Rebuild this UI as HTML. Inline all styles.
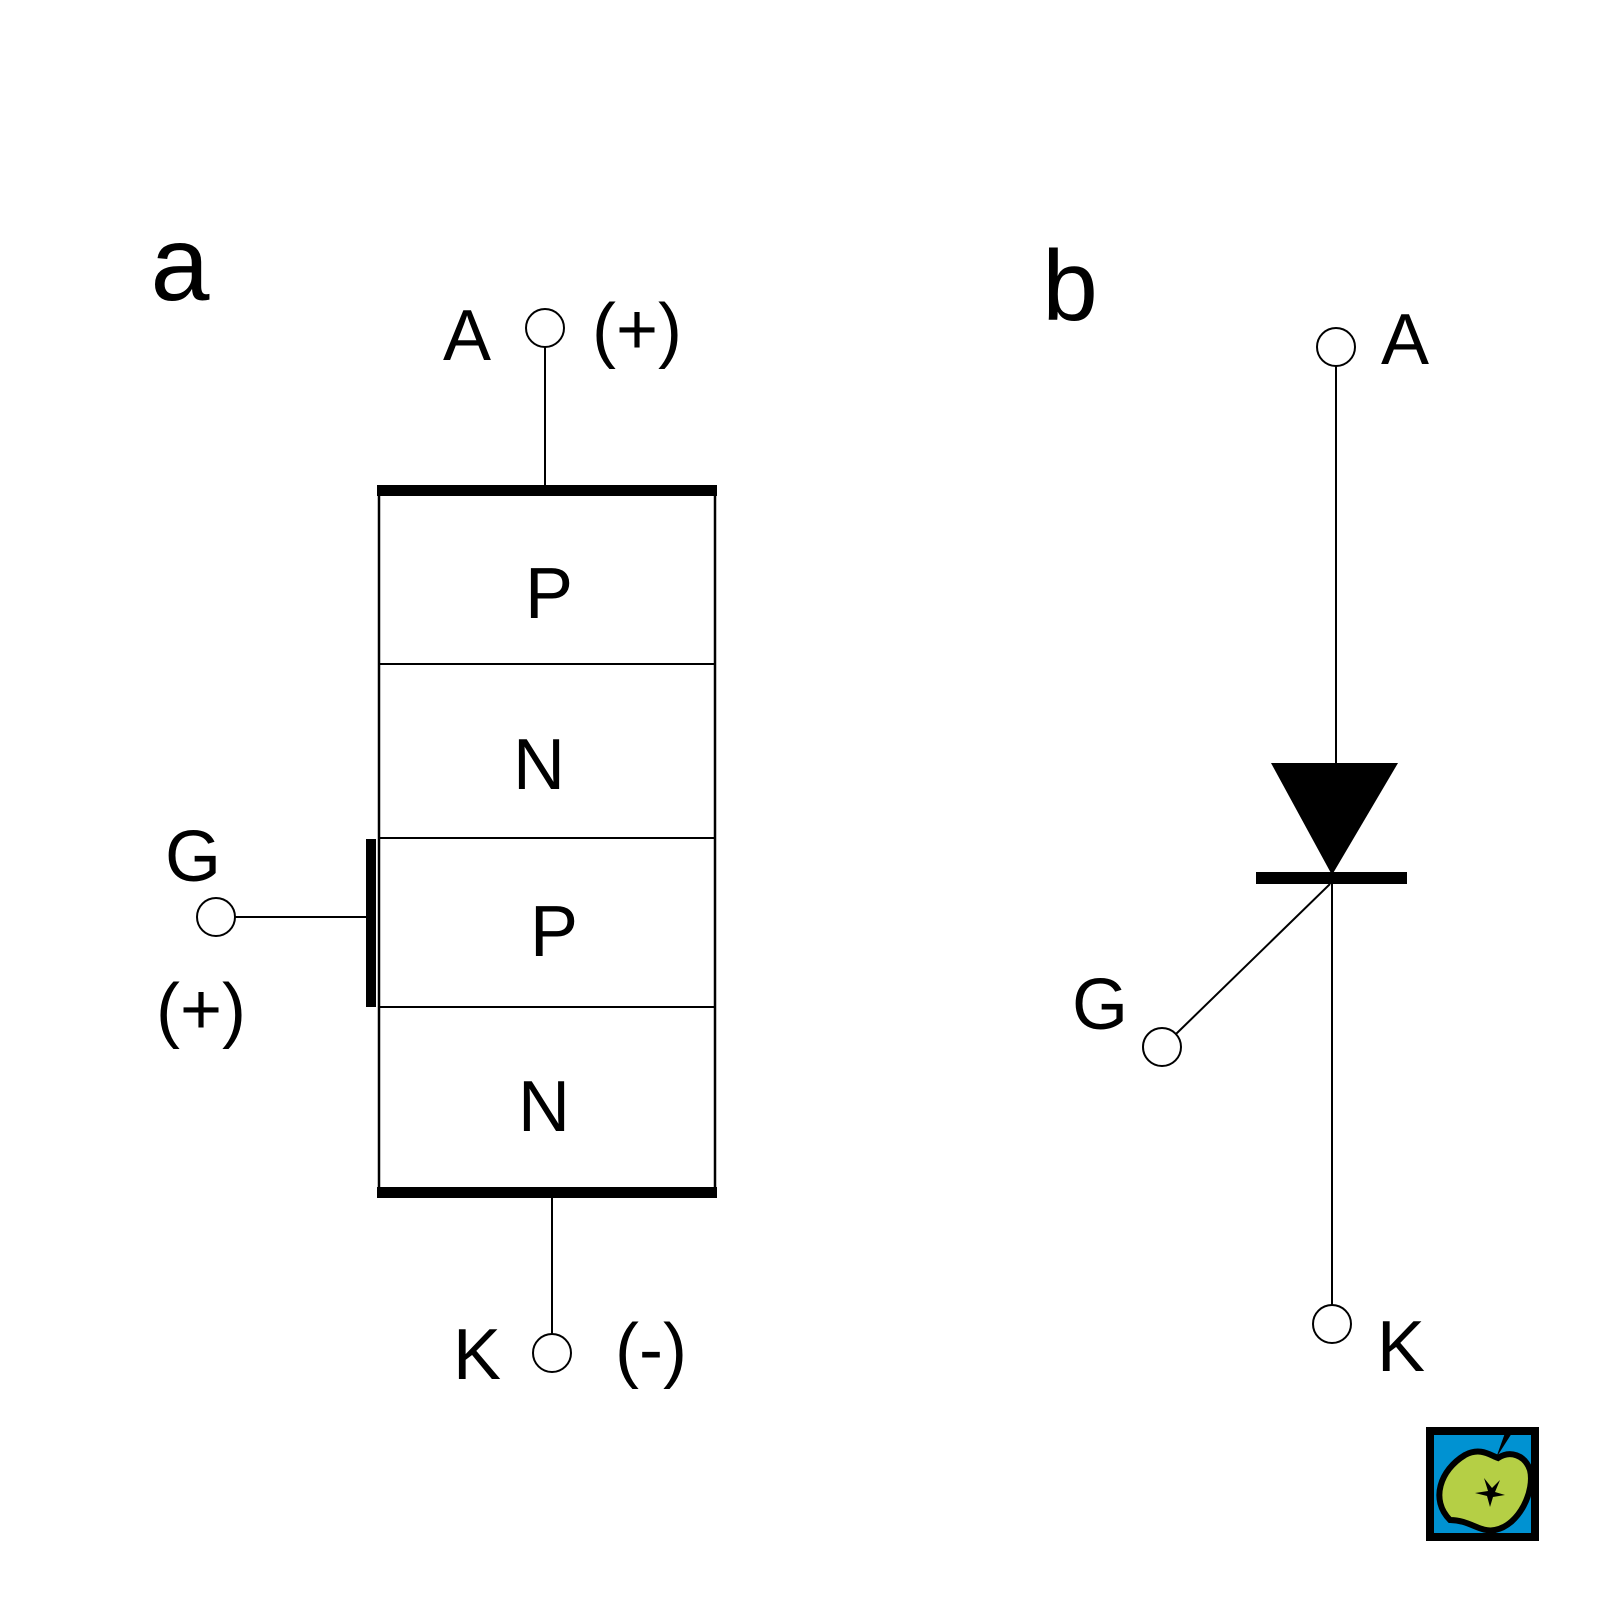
<!DOCTYPE html>
<html><head><meta charset="utf-8"><style>html,body{margin:0;padding:0;background:#fff}svg{display:block}</style></head><body>
<svg width="1600" height="1600" viewBox="0 0 1600 1600" xmlns="http://www.w3.org/2000/svg" font-family="Liberation Sans, Arial, sans-serif">
<rect width="1600" height="1600" fill="#fff"/>
<g font-size="72" text-anchor="middle" fill="#000">
<text x="180" y="300" font-size="106">a</text>
<text x="1070" y="320" font-size="100">b</text>
<text x="467" y="360">A</text>
<text x="637" y="354">(+)</text>
<text x="549" y="618">P</text>
<text x="539" y="789">N</text>
<text x="554" y="956">P</text>
<text x="544" y="1131">N</text>
<text x="193" y="881">G</text>
<text x="201" y="1034">(+)</text>
<text x="477" y="1379">K</text>
<text x="651" y="1374">(-)</text>
<text x="1405" y="364">A</text>
<text x="1100" y="1029">G</text>
<text x="1401" y="1371">K</text>
</g>
<g stroke="#000" fill="none" stroke-width="2">
<line x1="545" y1="347" x2="545" y2="490"/>
<rect x="379" y="493" width="336" height="699" stroke-width="2.5"/>
<line x1="379" y1="664" x2="715" y2="664"/>
<line x1="379" y1="838" x2="715" y2="838"/>
<line x1="379" y1="1007" x2="715" y2="1007"/>
<line x1="552" y1="1192" x2="552" y2="1334"/>
<line x1="235" y1="917" x2="371" y2="917"/>
<line x1="1336" y1="366" x2="1336" y2="765"/>
<line x1="1332" y1="880" x2="1332" y2="1305"/>
<line x1="1330" y1="884" x2="1176" y2="1034"/>
</g>
<g fill="#000">
<rect x="377" y="485" width="340" height="11"/>
<rect x="377" y="1187" width="340" height="11"/>
<rect x="366" y="839" width="10" height="168"/>
<polygon points="1271,763 1398,763 1332,875"/>
<rect x="1256" y="872" width="151" height="12"/>
</g>
<g fill="#fff" stroke="#000" stroke-width="2">
<circle cx="545" cy="328" r="19"/>
<circle cx="216" cy="917" r="19"/>
<circle cx="552" cy="1353" r="19"/>
<circle cx="1336" cy="347" r="19"/>
<circle cx="1162" cy="1047" r="19"/>
<circle cx="1332" cy="1324" r="19"/>
</g>
<g>
<rect x="1430" y="1431" width="105" height="106" fill="#0092d2" stroke="#000" stroke-width="8"/>
<path d="M1450,1520 C1430,1500 1440,1470 1465,1455 C1480,1447 1490,1455 1498,1458 C1510,1450 1525,1455 1530,1470 C1535,1490 1520,1525 1495,1530 C1480,1533 1470,1520 1450,1520 Z" fill="#b5cf45" stroke="#000" stroke-width="6"/>
<path d="M1496,1458 L1505,1433 L1512,1433 Z" fill="#000"/>
<path d="M1475,1493 L1488,1491 L1484,1478 L1492,1488 L1500,1480 L1495,1492 L1505,1495 L1493,1497 L1490,1507 L1487,1496 Z" fill="#000"/>
</g>
</svg>
</body></html>
